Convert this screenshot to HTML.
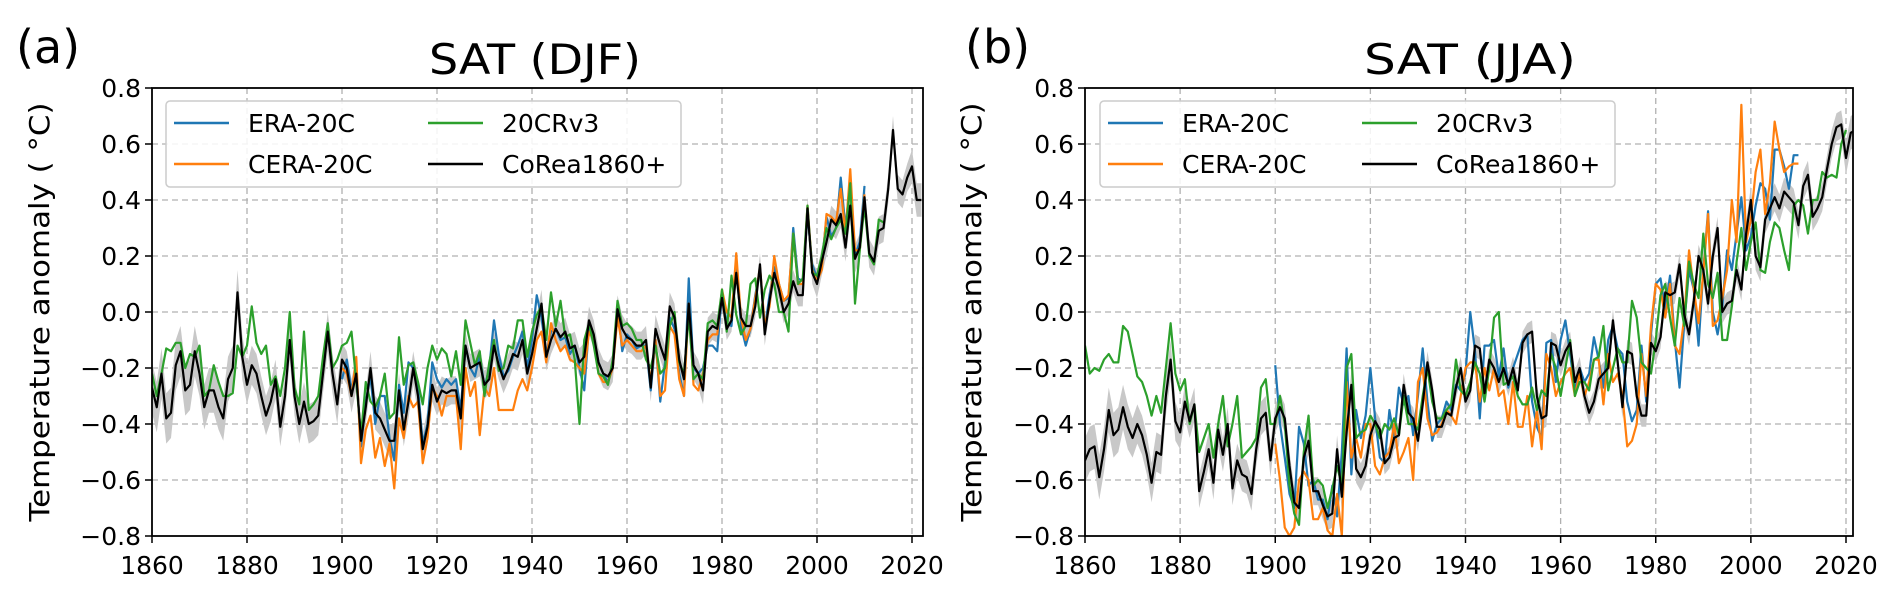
<!DOCTYPE html>
<html><head><meta charset="utf-8"><style>
html,body{margin:0;padding:0;background:#fff;}
svg{display:block;font-family:"DejaVu Sans","Liberation Sans",sans-serif;}
</style></head><body>
<svg id="fig" width="1892" height="594" viewBox="0 0 1892 594" xmlns="http://www.w3.org/2000/svg"></svg>
<script>
const years0 = 1860;
const yTicks = [-0.8,-0.6,-0.4,-0.2,0.0,0.2,0.4,0.6,0.8];
const xTicks = [1860,1880,1900,1920,1940,1960,1980,2000,2020];

const aCorea = [-0.27,-0.34,-0.22,-0.38,-0.36,-0.19,-0.14,-0.28,-0.26,-0.14,-0.22,-0.34,-0.28,-0.28,-0.34,-0.38,-0.24,-0.20,0.07,-0.16,-0.26,-0.19,-0.22,-0.30,-0.37,-0.32,-0.24,-0.41,-0.30,-0.10,-0.30,-0.40,-0.32,-0.40,-0.39,-0.37,-0.22,-0.07,-0.22,-0.33,-0.17,-0.20,-0.30,-0.22,-0.46,-0.34,-0.20,-0.36,-0.38,-0.42,-0.46,-0.46,-0.28,-0.42,-0.32,-0.20,-0.30,-0.49,-0.41,-0.26,-0.32,-0.28,-0.29,-0.28,-0.28,-0.38,-0.12,-0.20,-0.19,-0.18,-0.26,-0.24,-0.12,-0.19,-0.24,-0.20,-0.15,-0.16,-0.10,-0.22,-0.15,-0.06,0.03,-0.16,-0.10,-0.06,-0.09,-0.07,-0.13,-0.12,-0.18,-0.16,-0.03,-0.08,-0.18,-0.22,-0.23,-0.20,0.01,-0.06,-0.09,-0.10,-0.12,-0.12,-0.10,-0.27,-0.06,-0.12,-0.17,0.02,-0.02,-0.17,-0.24,0.03,-0.19,-0.22,-0.28,-0.07,-0.05,-0.06,0.05,-0.06,-0.03,0.14,-0.02,-0.05,-0.05,0.02,0.17,-0.08,0.04,0.14,0.08,0.00,0.03,0.11,0.06,0.06,0.37,0.14,0.10,0.18,0.25,0.33,0.31,0.35,0.23,0.38,0.19,0.23,0.41,0.21,0.18,0.29,0.30,0.44,0.65,0.44,0.42,0.48,0.52,0.40,0.40];
const a20cr = [-0.22,-0.30,-0.22,-0.13,-0.14,-0.11,-0.11,-0.20,-0.15,-0.16,-0.12,-0.30,-0.28,-0.19,-0.25,-0.30,-0.30,-0.29,-0.12,-0.16,-0.12,0.02,-0.11,-0.15,-0.12,-0.26,-0.23,-0.30,-0.20,0.00,-0.27,-0.33,-0.07,-0.35,-0.33,-0.30,-0.16,-0.04,-0.20,-0.17,-0.12,-0.11,-0.07,-0.25,-0.44,-0.25,-0.32,-0.34,-0.30,-0.22,-0.38,-0.36,-0.09,-0.26,-0.19,-0.18,-0.25,-0.33,-0.20,-0.12,-0.17,-0.13,-0.15,-0.23,-0.14,-0.26,-0.03,-0.11,-0.19,-0.14,-0.30,-0.18,-0.10,-0.21,-0.20,-0.12,-0.13,-0.03,-0.03,-0.16,-0.07,-0.01,0.02,-0.10,0.07,-0.05,0.04,-0.09,-0.08,-0.17,-0.40,-0.10,-0.04,-0.12,-0.22,-0.23,-0.26,-0.17,0.04,-0.05,-0.04,-0.06,-0.10,-0.10,-0.17,-0.20,-0.12,-0.22,-0.20,-0.05,0.00,-0.18,-0.22,-0.01,-0.24,-0.22,-0.24,-0.04,-0.03,-0.05,0.08,-0.07,0.13,-0.01,-0.08,-0.05,0.10,0.12,-0.02,0.08,0.13,0.10,0.00,0.00,-0.07,0.28,0.10,0.12,0.38,0.14,0.13,0.20,0.30,0.26,0.30,0.33,0.28,0.46,0.03,0.22,0.38,0.20,0.17,0.33,0.32];
const aEra = [-0.24,-0.17,-0.28,-0.20,-0.48,-0.32,-0.23,-0.40,-0.30,-0.30,-0.45,-0.53,-0.26,-0.36,-0.18,-0.20,-0.27,-0.47,-0.40,-0.18,-0.24,-0.27,-0.24,-0.26,-0.24,-0.35,-0.12,-0.20,-0.23,-0.15,-0.27,-0.20,-0.03,-0.15,-0.23,-0.21,-0.16,-0.12,-0.07,-0.20,-0.10,0.06,-0.02,-0.15,-0.07,-0.06,-0.10,-0.09,-0.15,-0.12,-0.20,-0.28,-0.05,-0.10,-0.18,-0.22,-0.25,-0.20,0.02,-0.14,-0.08,-0.10,-0.13,-0.12,-0.12,-0.28,-0.10,-0.32,-0.18,-0.02,-0.06,-0.22,-0.30,0.12,-0.20,-0.22,-0.20,-0.12,-0.12,-0.14,0.07,-0.04,-0.05,0.18,-0.05,-0.12,-0.06,0.06,0.15,-0.06,0.06,0.16,0.10,0.04,0.05,0.30,0.12,0.11,0.35,0.17,0.12,0.17,0.34,0.27,0.30,0.48,0.30,0.47,0.20,0.25,0.45];
const aCera = [-0.20,-0.22,-0.30,-0.16,-0.54,-0.42,-0.37,-0.52,-0.45,-0.55,-0.47,-0.63,-0.38,-0.45,-0.30,-0.34,-0.32,-0.54,-0.45,-0.27,-0.30,-0.37,-0.30,-0.30,-0.30,-0.49,-0.20,-0.30,-0.25,-0.44,-0.27,-0.30,-0.20,-0.35,-0.35,-0.35,-0.35,-0.28,-0.24,-0.28,-0.20,-0.10,-0.07,-0.18,-0.04,-0.10,-0.14,-0.12,-0.17,-0.18,-0.20,-0.22,-0.07,-0.10,-0.22,-0.25,-0.25,-0.20,-0.02,-0.12,-0.10,-0.12,-0.14,-0.14,-0.12,-0.25,-0.10,-0.30,-0.28,-0.05,-0.08,-0.24,-0.30,0.03,-0.26,-0.28,-0.22,-0.10,-0.08,-0.08,0.08,0.00,-0.02,0.21,-0.02,-0.10,-0.06,0.05,0.16,-0.05,0.02,0.20,0.10,0.04,0.06,0.28,0.10,0.10,0.38,0.15,0.11,0.15,0.35,0.34,0.32,0.44,0.28,0.51,0.22,0.22,0.42];
const aBand = [0.09,0.08,0.07,0.07,0.06,0.06,0.05,0.05,0.05,0.05,0.05,0.05,0.04,0.04,0.05,0.05,0.06];

const bCorea = [-0.53,-0.49,-0.48,-0.59,-0.49,-0.35,-0.44,-0.42,-0.34,-0.41,-0.45,-0.40,-0.44,-0.51,-0.61,-0.50,-0.51,-0.30,-0.17,-0.39,-0.43,-0.32,-0.39,-0.33,-0.64,-0.57,-0.49,-0.61,-0.42,-0.51,-0.40,-0.63,-0.53,-0.58,-0.59,-0.65,-0.49,-0.38,-0.36,-0.53,-0.38,-0.34,-0.38,-0.55,-0.68,-0.70,-0.52,-0.46,-0.64,-0.64,-0.69,-0.73,-0.72,-0.49,-0.66,-0.43,-0.26,-0.56,-0.59,-0.55,-0.44,-0.39,-0.42,-0.54,-0.52,-0.45,-0.44,-0.26,-0.36,-0.38,-0.46,-0.33,-0.18,-0.28,-0.41,-0.41,-0.36,-0.37,-0.27,-0.20,-0.32,-0.28,-0.12,-0.13,-0.29,-0.17,-0.20,-0.25,-0.20,-0.26,-0.20,-0.28,-0.11,-0.08,-0.07,-0.30,-0.38,-0.37,-0.11,-0.12,-0.19,-0.14,-0.11,-0.25,-0.20,-0.30,-0.36,-0.32,-0.24,-0.22,-0.20,-0.03,-0.18,-0.34,-0.14,-0.15,-0.30,-0.37,-0.37,-0.11,-0.14,-0.09,0.07,0.06,0.07,0.17,-0.01,-0.08,0.04,0.20,0.15,0.03,0.20,0.30,0.00,0.03,0.04,0.15,0.08,0.28,0.40,0.20,0.16,0.33,0.37,0.41,0.37,0.43,0.41,0.39,0.31,0.45,0.49,0.34,0.37,0.41,0.51,0.60,0.66,0.67,0.55,0.64,0.65,0.55,0.54];
const b20cr = [-0.12,-0.22,-0.20,-0.21,-0.17,-0.15,-0.18,-0.18,-0.05,-0.07,-0.15,-0.23,-0.25,-0.30,-0.37,-0.30,-0.36,-0.20,-0.04,-0.22,-0.28,-0.24,-0.40,-0.33,-0.50,-0.45,-0.40,-0.52,-0.40,-0.30,-0.48,-0.40,-0.30,-0.52,-0.50,-0.48,-0.45,-0.27,-0.24,-0.40,-0.40,-0.30,-0.40,-0.62,-0.72,-0.76,-0.50,-0.37,-0.62,-0.60,-0.62,-0.70,-0.63,-0.55,-0.62,-0.20,-0.15,-0.45,-0.43,-0.42,-0.37,-0.40,-0.45,-0.40,-0.42,-0.38,-0.44,-0.30,-0.40,-0.40,-0.42,-0.30,-0.20,-0.32,-0.38,-0.38,-0.35,-0.33,-0.17,-0.28,-0.30,-0.25,-0.18,-0.22,-0.32,-0.20,-0.02,0.00,-0.26,-0.25,-0.23,-0.30,-0.33,-0.33,-0.27,-0.35,-0.28,-0.30,-0.15,-0.20,-0.30,-0.20,-0.10,-0.30,-0.25,-0.25,-0.28,-0.17,-0.16,-0.05,-0.28,-0.20,-0.13,-0.18,-0.18,0.04,-0.02,-0.18,-0.20,-0.22,-0.10,0.06,0.10,-0.02,-0.12,0.05,-0.05,0.18,0.10,0.05,0.28,0.10,0.05,0.14,-0.10,-0.10,0.02,0.18,0.30,0.15,0.25,0.32,0.15,0.14,0.25,0.32,0.30,0.22,0.15,0.38,0.40,0.38,0.28,0.40,0.40,0.50,0.48,0.49,0.48,0.60,0.65];
const bEra = [-0.19,-0.40,-0.52,-0.65,-0.70,-0.41,-0.47,-0.62,-0.60,-0.67,-0.67,-0.74,-0.62,-0.73,-0.50,-0.13,-0.58,-0.35,-0.45,-0.37,-0.20,-0.38,-0.52,-0.54,-0.35,-0.45,-0.27,-0.33,-0.30,-0.44,-0.30,-0.13,-0.32,-0.46,-0.40,-0.38,-0.32,-0.35,-0.26,-0.28,-0.22,0.00,-0.14,-0.38,-0.12,-0.12,-0.10,-0.23,-0.13,-0.27,-0.20,-0.15,-0.10,-0.08,-0.32,-0.41,-0.45,-0.11,-0.10,-0.25,-0.10,-0.03,-0.15,-0.28,-0.20,-0.25,-0.22,-0.09,-0.17,-0.27,-0.10,-0.05,-0.13,-0.15,-0.32,-0.39,-0.35,-0.12,-0.32,-0.08,0.10,0.12,0.01,0.13,-0.10,-0.27,-0.04,0.15,0.08,-0.12,0.15,0.36,0.00,-0.08,0.02,0.22,0.15,0.28,0.41,0.22,0.27,0.38,0.46,0.44,0.33,0.58,0.58,0.52,0.44,0.56,0.56];
const bCera = [-0.47,-0.60,-0.77,-0.80,-0.77,-0.60,-0.57,-0.60,-0.74,-0.74,-0.70,-0.78,-0.80,-0.65,-0.80,-0.25,-0.52,-0.45,-0.52,-0.40,-0.40,-0.55,-0.58,-0.52,-0.50,-0.40,-0.54,-0.50,-0.45,-0.60,-0.25,-0.20,-0.38,-0.44,-0.43,-0.40,-0.35,-0.37,-0.40,-0.30,-0.20,-0.18,-0.18,-0.32,-0.20,-0.28,-0.20,-0.30,-0.28,-0.40,-0.25,-0.41,-0.41,-0.30,-0.48,-0.35,-0.49,-0.15,-0.20,-0.30,-0.25,-0.22,-0.20,-0.30,-0.22,-0.30,-0.25,-0.17,-0.17,-0.33,-0.15,-0.25,-0.22,-0.30,-0.48,-0.46,-0.40,-0.15,-0.30,-0.05,0.10,0.08,-0.02,0.10,-0.12,-0.15,-0.02,0.22,0.08,-0.04,0.14,0.35,-0.05,-0.03,0.05,0.15,0.40,0.25,0.74,0.25,0.33,0.50,0.58,0.35,0.46,0.68,0.58,0.50,0.52,0.53,0.53];
const bBand = [0.08,0.07,0.06,0.06,0.05,0.05,0.04,0.04,0.04,0.04,0.04,0.04,0.04,0.04,0.05,0.05,0.06];

const NS = "http://www.w3.org/2000/svg";
const svg = document.getElementById('fig');
function mk(tag, attrs, parent){
  const e = document.createElementNS(NS, tag);
  for (const k in attrs) e.setAttribute(k, attrs[k]);
  (parent||svg).appendChild(e);
  return e;
}

function panel(o){
  const L=o.left, R=o.right, T=88, B=536;
  const x = yr => L + (yr-1860)*(o.x2020-L)/160;
  const y = v => T + (0.8-v)*(B-T)/1.6;
  const g = mk('g', {});
  
  
  const cp = mk('clipPath', {id:'clip-'+o.id}, g);
  mk('rect', {x:L, y:T, width:R-L, height:B-T}, cp);
  const grid = mk('g', {stroke:'#b0b0b0','stroke-width':1.3,'stroke-dasharray':'6,4'}, g);
  
  
  xTicks.forEach(t=>{ if(t>1860) mk('line',{x1:x(t),x2:x(t),y1:T,y2:B},grid); });
  yTicks.forEach(t=>{ if(t>-0.8 && t<0.8) mk('line',{x1:L,x2:R,y1:y(t),y2:y(t)},grid); });
  const plot = mk('g', {'clip-path':'url(#clip-'+o.id+')'}, g);
  let up=[], dn=[];
  o.corea.forEach((v,i)=>{ const w=o.band[Math.min(o.band.length-1,Math.floor(i/10))]; up.push(x(years0+i)+','+y(v+w)); dn.unshift(x(years0+i)+','+y(v-w)); });
  const band = mk('polygon',{points:up.concat(dn).join(' '),fill:'#c8c8c8',stroke:'none'},plot);
  
  
  const series = [
    ['era-20c-line', o.era, 1900, '#1f77b4'],
    ['cera-20c-line', o.cera, 1900, '#ff7f0e'],
    ['20crv3-line', o.cr, 1860, '#2ca02c'],
    ['corea1860-line', o.corea, 1860, '#000000']
  ];
  series.forEach(s=>{
    const pts = s[1].map((v,i)=>x(s[2]+i)+','+y(v)).join(' ');
    const pl = mk('polyline',{points:pts,fill:'none',stroke:s[3],'stroke-width':2.2,'stroke-linejoin':'round'},plot);
    
    
  });
  const fr = mk('rect',{x:L,y:T,width:R-L,height:B-T,fill:'none',stroke:'#000','stroke-width':1.8},g);
  
  
  xTicks.forEach(t=>{
    mk('line',{x1:x(t),x2:x(t),y1:B,y2:B+7,stroke:'#000','stroke-width':1.5},g);
    const tx = mk('text',{x:x(t),y:B+38,'font-size':25,'text-anchor':'middle',fill:'#000'},g);
    tx.textContent = t;
    
    
  });
  yTicks.forEach(t=>{
    mk('line',{x1:L-7,x2:L,y1:y(t),y2:y(t),stroke:'#000','stroke-width':1.5},g);
    const tx = mk('text',{x:L-11,y:y(t)+9,'font-size':25,'text-anchor':'end',fill:'#000'},g);
    tx.textContent = (t<0?'\u2212':'') + Math.abs(t).toFixed(1);
    
    
  });
  const yl = mk('text',{x:0,y:0,'font-size':28,'text-anchor':'middle',fill:'#000',transform:'translate('+(o.ylabX)+',312) rotate(-90)',textLength:419,lengthAdjust:'spacingAndGlyphs'},g);
  yl.textContent = 'Temperature anomaly ( \u00B0C)';
  
  
  const ti = mk('text',{x:o.titleX,y:74,'font-size':42,'text-anchor':'middle',fill:'#000',textLength:212,lengthAdjust:'spacingAndGlyphs'},g);
  ti.textContent = o.title;
  
  
  const pl = mk('text',{x:o.labX,y:63,'font-size':46,fill:'#000'},g);
  pl.textContent = o.lab;
  
  
  const lg = mk('g',{},g);
  
  
  const lx = o.legX;
  mk('rect',{x:lx,y:101,width:515,height:86,rx:4,fill:'#fff','fill-opacity':0.85,stroke:'#cccccc','stroke-width':1.5},lg);
  const ents = [['ERA-20C','#1f77b4',0,0],['CERA-20C','#ff7f0e',0,1],['20CRv3','#2ca02c',1,0],['CoRea1860+','#000',1,1]];
  ents.forEach(e=>{
    const ex = lx + 8 + e[2]*254, ey = 123 + e[3]*41;
    const eg = mk('g',{},lg);
    
    
    mk('line',{x1:ex,x2:ex+55,y1:ey,y2:ey,stroke:e[1],'stroke-width':2.4},eg);
    const t = mk('text',{x:ex+74,y:ey+9,'font-size':25,fill:'#000'},eg);
    t.textContent = e[0];
  });
}

panel({id:'djf', left:152, right:923, x2020:912, corea:aCorea, cr:a20cr, era:aEra, cera:aCera, band:aBand, ylabX:49, titleX:535, title:'SAT (DJF)', labX:16, lab:'(a)', legX:166});
panel({id:'jja', left:1085, right:1853, x2020:1846, corea:bCorea, cr:b20cr, era:bEra, cera:bCera, band:bBand, ylabX:981, titleX:1470, title:'SAT (JJA)', labX:965, lab:'(b)', legX:1100});
</script>
</body></html>
